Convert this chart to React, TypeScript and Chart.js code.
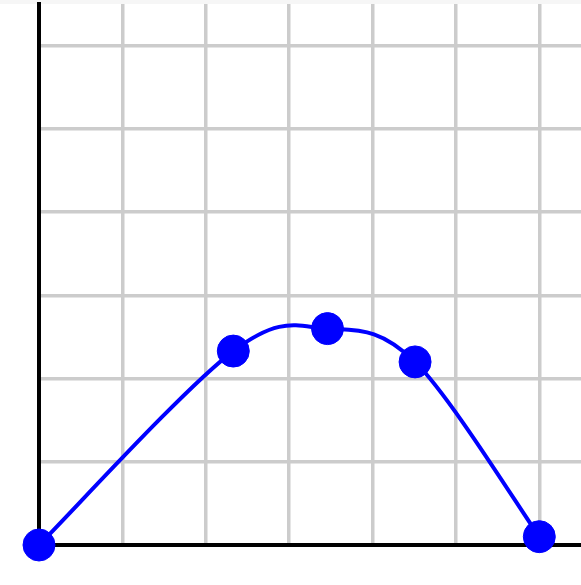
import React, { useEffect, useRef } from "react";
import { Chart, registerables } from "chart.js";

Chart.register(...registerables);

const xValues = [0, 2.33, 3.46, 4.51, 6.0];
const yValues = [0, 2.33, 2.6, 2.2, 0.1];
const axisMin = 0;
const axisMax = 6.5;
const tickStep = 1;

// Cardinal (Catmull-Rom style) control points computed from the point elements
// that Chart.js has already placed through its scales.
const cardinalPlugin = {
  id: "cardinalCurve",
  beforeDatasetDraw(chart: any, args: any) {
    const meta = args.meta;
    if (!meta || !meta.dataset) return;
    meta.dataset.updateControlPoints(chart.chartArea, meta.iScale.axis);
    const pts = meta.data;
    const k = 1 / 6;
    for (let i = 0; i < pts.length; i++) {
      const p = pts[i];
      const prev = pts[i - 1] || p;
      const next = pts[i + 1] || p;
      const dx = next.x - prev.x;
      const dy = next.y - prev.y;
      p.cp1x = p.x - k * dx;
      p.cp1y = p.y - k * dy;
      p.cp2x = p.x + k * dx;
      p.cp2y = p.y + k * dy;
    }
  },
};

export default function App() {
  const ref = useRef<HTMLCanvasElement | null>(null);

  useEffect(() => {
    document.body.style.margin = "0";
    const canvas = ref.current;
    if (!canvas) return;
    const data = xValues.map((x, i) => ({ x, y: yValues[i] }));
    const fitZero = (scale: any) => {
      if (scale.isHorizontal()) scale.height = 0;
      else scale.width = 0;
    };
    const chart = new Chart(canvas, {
      type: "line",
      data: {
        datasets: [
          {
            data,
            borderColor: "#0000ff",
            backgroundColor: "#0000ff",
            borderWidth: 4,
            pointRadius: 16,
            pointBorderWidth: 1,
            pointBorderColor: "#0000ff",
            pointBackgroundColor: "#0000ff",
            tension: 0.4,
            clip: false as any,
          },
        ],
      },
      options: {
        responsive: false,
        animation: false,
        events: [],
        layout: { autoPadding: false, padding: { left: 39, top: 4, right: 0, bottom: 40 } },
        plugins: { legend: { display: false }, tooltip: { enabled: false } },
        scales: {
          x: {
            type: "linear",
            min: axisMin,
            max: axisMax,
            ticks: { display: false, stepSize: tickStep, includeBounds: false },
            grid: { color: "#cccccc", lineWidth: 3.5, drawTicks: false },
            border: { color: "#000000", width: 4 },
            afterFit: fitZero,
          },
          y: {
            type: "linear",
            min: axisMin,
            max: axisMax,
            ticks: { display: false, stepSize: tickStep, includeBounds: false },
            grid: { color: "#cccccc", lineWidth: 3.5, drawTicks: false },
            border: { color: "#000000", width: 4 },
            afterFit: fitZero,
          },
        },
      },
      plugins: [cardinalPlugin],
    });
    return () => chart.destroy();
  }, []);

  return (
    <div style={{ position: "fixed", left: 0, top: 0, width: 581, height: 585, background: "#ffffff" }}>
      <div style={{ position: "absolute", left: 0, top: 0, width: 581, height: 4, background: "#f6f6f6" }} />
      <canvas ref={ref} width={581} height={585} style={{ position: "absolute", left: 0, top: 0 }} />
    </div>
  );
}
